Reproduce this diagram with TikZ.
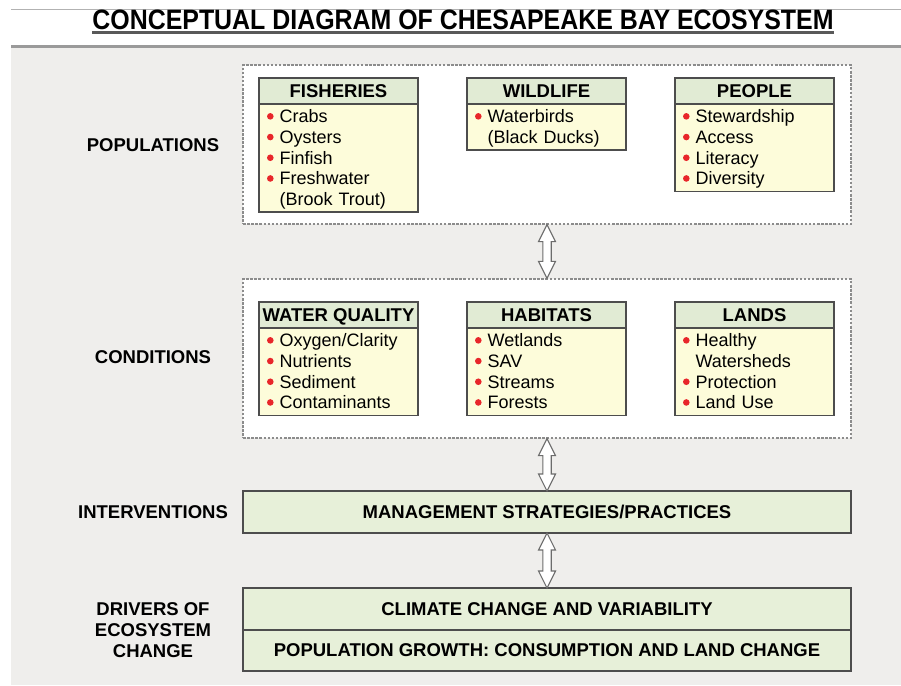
\documentclass[tikz,border=0pt]{standalone}
\usepackage{fontspec}
\setmainfont{Liberation Sans}
\newfontfamily\titlefont[FakeStretch=0.89]{Liberation Sans}
\usetikzlibrary{positioning,calc}
\definecolor{bggray}{HTML}{EFEEEC}
\definecolor{rulegray}{HTML}{9A9A9A}
\definecolor{dashgray}{HTML}{8C8C8C}
\definecolor{boxline}{HTML}{4D4D4D}
\definecolor{headgreen}{HTML}{E1EBD4}
\definecolor{bandgreen}{HTML}{E7F0D9}
\definecolor{bodyyellow}{HTML}{FDFCDA}
\definecolor{dotred}{HTML}{E8262A}
\def\reddot{\tikz[baseline=-6.5pt]\fill[dotred] (0,0) circle (3.3pt);}
\def\bul{\rule[-4.1pt]{0pt}{20.7pt}\reddot\ }
\def\nobul{\rule[-4.1pt]{0pt}{20.7pt}\hspace{6.6pt}\ }

\begin{document}
\begin{tikzpicture}[lbl/.style={font=\bfseries\fontsize{18.5}{20.7}\selectfont, align=center, inner sep=0pt},
grp/.style={draw=dashgray, line width=1.3pt, dash pattern=on 2.5pt off 1.6pt, fill=white, minimum width=608pt, minimum height=159pt, inner sep=0pt},
cathead/.style={draw=boxline, line width=1.6pt, fill=headgreen, minimum width=159pt, minimum height=26pt, inner sep=0pt, outer sep=0pt, text height=13pt, text depth=0pt, font=\bfseries\fontsize{18.5}{20.7}\selectfont},
catbody/.style={draw=boxline, line width=1.6pt, fill=bodyyellow, text width=143pt, inner xsep=8pt, inner ysep=2.25pt, outer sep=0pt, align=left, font=\fontsize{18}{20.7}\selectfont, below=0pt of #1},
bandbox/.style={draw=boxline, line width=1.6pt, fill=bandgreen, minimum width=608pt, minimum height=42pt, inner sep=0pt, outer sep=0pt, font=\bfseries\fontsize{18.5}{20.7}\selectfont},
dblarrow/.style={draw=gray!85!black, fill=white, line width=1.1pt, line join=miter,
  to path={let \p1=(\tikztostart), \p2=(\tikztotarget) in
  (\x1,\y1) -- (\x1-8.5pt,\y1-17pt) -- (\x1-4.2pt,\y1-17pt) -- (\x1-4.2pt,\y2+17pt) -- (\x1-8.5pt,\y2+17pt) -- (\x1,\y2)
  -- (\x1+8.5pt,\y2+17pt) -- (\x1+4.2pt,\y2+17pt) -- (\x1+4.2pt,\y1-17pt) -- (\x1+8.5pt,\y1-17pt) -- cycle}}]
\useasboundingbox (0pt, 0pt) rectangle (901pt, -685pt);
\fill[bggray] (11pt, -47pt) rectangle (901pt, -685pt);
\draw[rulegray, line width=2.4pt] (11pt, -46.5pt) -- (901pt, -46.5pt);
\draw[gray!60, line width=0.8pt] (11pt, -9pt) -- (901pt, -9pt);
% title
\draw (463.0pt, -29.5pt)node[anchor=base, inner sep=0pt, font=\titlefont\bfseries\fontsize{28}{30}\selectfont](title){CONCEPTUAL DIAGRAM OF CHESAPEAKE BAY ECOSYSTEM};
\draw[line width=2.2pt, black!65] ([yshift=-3pt]title.base west) -- ([yshift=-3pt]title.base east);
% row labels
\draw (153.0pt, -145.0pt)node[lbl](poplbl){POPULATIONS};
\draw (153.0pt, -357.0pt)node[lbl](condlbl){CONDITIONS};
\draw (153.0pt, -512.5pt)node[lbl](intlbl){INTERVENTIONS};
\draw (153.0pt, -630.0pt)node[lbl](drvlbl){DRIVERS OF\\ECOSYSTEM\\CHANGE};
% populations
\draw (547.0pt, -144.5pt)node[grp](pop){};
\draw (338.5pt, -91.0pt)node[cathead](fish){FISHERIES};
\node[catbody=fish](fishlist){\bul Crabs\\\bul Oysters\\\bul Finfish\\\bul Freshwater\\\nobul(Brook Trout)};
\draw (546.5pt, -91.0pt)node[cathead](wild){WILDLIFE};
\node[catbody=wild](wildlist){\bul Waterbirds\\\nobul(Black Ducks)};
\draw (754.5pt, -91.0pt)node[cathead](people){PEOPLE};
\node[catbody=people](peoplelist){\bul Stewardship\\\bul Access\\\bul Literacy\\\bul Diversity};
% conditions
\draw (547.0pt, -358.5pt)node[grp](cond){};
\draw (338.5pt, -315.0pt)node[cathead](water){WATER QUALITY};
\node[catbody=water](waterlist){\bul Oxygen/Clarity\\\bul Nutrients\\\bul Sediment\\\bul Contaminants};
\draw (546.5pt, -315.0pt)node[cathead](habitat){HABITATS};
\node[catbody=habitat](habitatlist){\bul Wetlands\\\bul SAV\\\bul Streams\\\bul Forests};
\draw (754.5pt, -315.0pt)node[cathead](lands){LANDS};
\node[catbody=lands](landslist){\bul Healthy\\\nobul Watersheds\\\bul Protection\\\bul Land Use};
% interventions and drivers
\draw (547.0pt, -512.0pt)node[bandbox](mgmt){MANAGEMENT STRATEGIES/PRACTICES};
\draw (547.0pt, -609.0pt)node[bandbox](climate){CLIMATE CHANGE AND VARIABILITY};
\node[bandbox, minimum height=41pt, below=0pt of climate](growth){POPULATION GROWTH: CONSUMPTION AND LAND CHANGE};
% links
\path[dblarrow] (pop.south) to (cond.north);
\path[dblarrow] (cond.south) to (mgmt.north);
\path[dblarrow] (mgmt.south) to (climate.north);
\end{tikzpicture}
\end{document}
